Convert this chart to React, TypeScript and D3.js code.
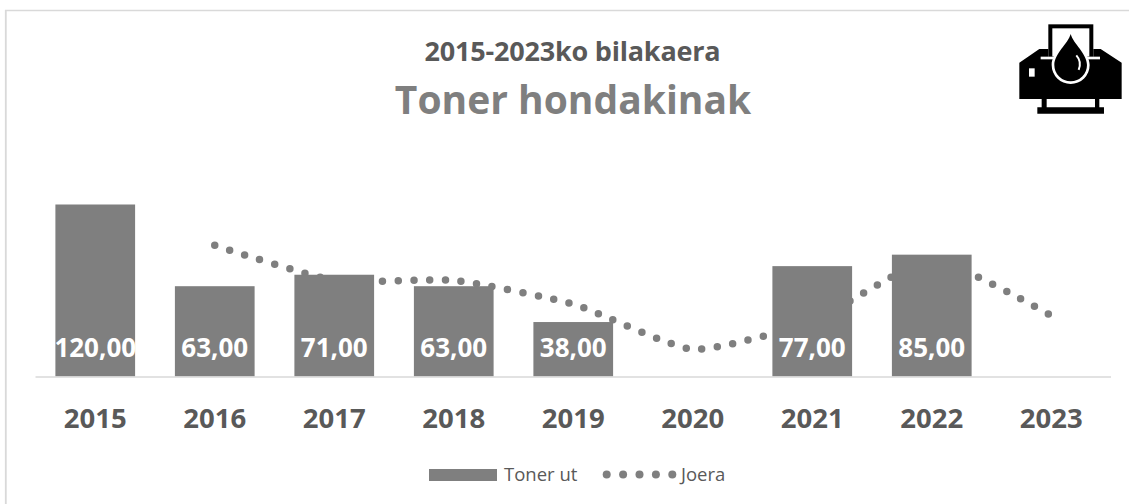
import React from "react";
import * as d3 from "d3";

const years = ["2015", "2016", "2017", "2018", "2019", "2020", "2021", "2022", "2023"];
const tonerValues = [120, 63, 71, 63, 38, 0, 77, 85, 0];
const trendYears = ["2016", "2017", "2018", "2019", "2020", "2021", "2022", "2023"];
const trendValues = [91.5, 67, 67, 50.5, 19, 38.5, 81, 42.5];
const title = "2015-2023ko bilakaera";
const subtitle = "Toner hondakinak";
const legendBar = "Toner ut";
const legendLine = "Joera";

const W = 1129;
const H = 504;
const font = "'Open Sans', sans-serif";
const GREY = "#7f7f7f";
const DARK = "#595959";
const RULE = "#d9d9d9";

function PrinterIcon() {
  return (
    <g transform="translate(980,0) scale(0.3333)">
      <rect x={205} y={73} width={135} height={105} fill="#000" />
      <rect x={217} y={85} width={111} height={85} fill="#fff" />
      <path d="M118,188 L178,147 L205,147 L205,170 L340,170 L340,147 L362,147 L425,188 L425,297 L118,297 Z" fill="#000" />
      <rect x={182} y={170} width={178} height={8} fill="#fff" />
      <rect x={147} y={205} width={17} height={25} fill="#fff" />
      <path d="M185,297 H200 V322 H345 V297 H358 V322 H372 V341 H172 V322 H185 Z" fill="#000" />
      <path d="M272,92 C262,125 215,155 215,195 A57,57 0 0 0 329,195 C329,155 282,125 272,92 Z" fill="#fff" />
      <path d="M272,102 C264,132 223,160 223,195 A49,49 0 0 0 321,195 C321,160 280,132 272,102 Z" fill="#000" />
      <path d="M289,166 C300,178 302,195 296,210" fill="none" stroke="#fff" strokeWidth={6} />
    </g>
  );
}

export default function App() {
  const x = d3.scaleBand<string>().domain(years).range([35.5, 1111]).paddingInner(0.333).paddingOuter(0.1665);
  const y = d3.scaleLinear().domain([0, 120]).range([376.5, 204.5]);
  const line = d3
    .line<number>()
    .x((_, i) => (x(trendYears[i]) as number) + x.bandwidth() / 2)
    .y((d) => y(d))
    .curve(d3.curveCardinal.tension(0.45));

  const legendDots = d3.range(5);

  return (
    <svg width={W} height={H} style={{ position: "absolute", left: 0, top: 0, background: "#fff" }}>
      <line x1={5.8} x2={5.8} y1={10} y2={H} stroke={RULE} strokeWidth={1.8} />
      <line x1={5} x2={W} y1={10.5} y2={10.5} stroke={RULE} strokeWidth={1.5} />
      <text x={572.5} y={61} textAnchor="middle" fontFamily={font} fontWeight={700} fontSize={27} fill={DARK} style={{ letterSpacing: "-0.2px" }}>{title}</text>
      <text x={573} y={114} textAnchor="middle" fontFamily={font} fontWeight={700} fontSize={39} fill={GREY}>{subtitle}</text>
      <PrinterIcon />
      <path d={line(trendValues) as string} fill="none" stroke={GREY} strokeWidth={7.5} strokeLinecap="round" strokeDasharray="0 15.72" />
      {years.map((yr, i) =>
        tonerValues[i] > 0 ? (
          <rect key={yr} x={x(yr)} y={y(tonerValues[i])} width={x.bandwidth()} height={y(0) - y(tonerValues[i])} fill={GREY} />
        ) : null
      )}
      <line x1={35.5} x2={1111} y1={377} y2={377} stroke={RULE} strokeWidth={1.5} />
      {years.map((yr, i) =>
        tonerValues[i] > 0 ? (
          <text key={yr} x={(x(yr) as number) + x.bandwidth() / 2} y={357} textAnchor="middle" fontFamily={font} fontWeight={700} fontSize={26} fill="#fff">
            {d3.format(".2f")(tonerValues[i]).replace(".", ",")}
          </text>
        ) : null
      )}
      {years.map((yr) => (
        <text key={yr} x={(x(yr) as number) + x.bandwidth() / 2} y={428} textAnchor="middle" fontFamily={font} fontWeight={700} fontSize={27.5} fill={DARK}>{yr}</text>
      ))}
      <rect x={429} y={469} width={68} height={12} fill={GREY} />
      <text x={504} y={481} fontFamily={font} fontSize={18.5} fill={DARK}>{legendBar}</text>
      {legendDots.map((i) => (
        <circle key={i} cx={606.7 + i * 16.4} cy={474.5} r={4} fill={GREY} />
      ))}
      <text x={681} y={481} fontFamily={font} fontSize={18.5} fill={DARK}>{legendLine}</text>
    </svg>
  );
}
